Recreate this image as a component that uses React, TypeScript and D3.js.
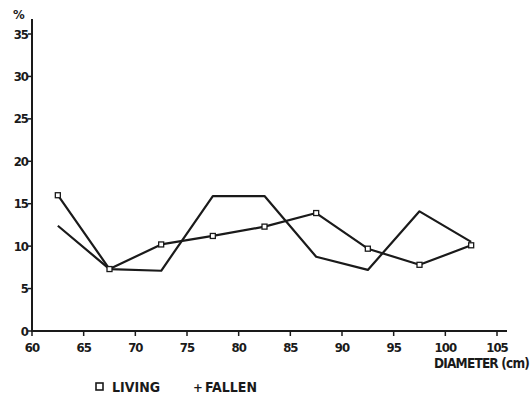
import React from "react";
import * as d3 from "d3";

const diameters = [62.5, 67.5, 72.5, 77.5, 82.5, 87.5, 92.5, 97.5, 102.5];
const living = [16.0, 7.3, 10.2, 11.2, 12.3, 13.9, 9.7, 7.8, 10.1];
const fallen = [12.4, 7.3, 7.1, 15.9, 15.9, 8.75, 7.2, 14.1, 10.5];
const xTicks = [60, 65, 70, 75, 80, 85, 90, 95, 100, 105];
const yTicks = [0, 5, 10, 15, 20, 25, 30, 35];

const W = 530;
const H = 401;
const FONT = "'DejaVu Sans Condensed', 'DejaVu Sans', sans-serif";
const INK = "#1a1a1a";

export default function App() {
  const x = d3.scaleLinear().domain([60, 105]).range([32, 497]);
  const y = d3.scaleLinear().domain([0, 35]).range([331, 34]);
  const line = d3
    .line<[number, number]>()
    .x((d) => x(d[0]))
    .y((d) => y(d[1]));
  const livingPts: [number, number][] = diameters.map((d, i) => [d, living[i]]);
  const fallenPts: [number, number][] = diameters.map((d, i) => [d, fallen[i]]);

  return (
    <svg
      width={W}
      height={H}
      style={{ position: "absolute", left: 0, top: 0, background: "#fff" }}
    >
      {/* axes */}
      <line x1={x(60)} x2={x(60)} y1={19} y2={y(0) + 1} stroke={INK} strokeWidth={2} />
      <line x1={x(60) - 1} x2={507} y1={y(0)} y2={y(0)} stroke={INK} strokeWidth={2} />
      {yTicks.map((t) => (
        <g key={"y" + t}>
          <line x1={x(60) - 4} x2={x(60)} y1={y(t)} y2={y(t)} stroke={INK} strokeWidth={1.5} />
          <text
            x={x(60) - 4}
            y={y(t)}
            dy="0.35em"
            textAnchor="end"
            fontFamily={FONT}
            fontWeight="bold"
            fontSize={13}
            letterSpacing={-1}
            fill={INK}
          >
            {t}
          </text>
        </g>
      ))}
      {xTicks.map((t) => (
        <g key={"x" + t}>
          <line x1={x(t)} x2={x(t)} y1={y(0)} y2={y(0) + 5} stroke={INK} strokeWidth={1.5} />
          <text
            x={x(t)}
            y={y(0) + 21}
            textAnchor="middle"
            fontFamily={FONT}
            fontWeight="bold"
            fontSize={13}
            letterSpacing={-1}
            fill={INK}
          >
            {t}
          </text>
        </g>
      ))}
      <text x={13} y={19} fontFamily={FONT} fontWeight="bold" fontSize={13} fill={INK}>
        %
      </text>
      <text
        x={434}
        y={368}
        fontFamily={FONT}
        fontWeight="bold"
        fontSize={13.5}
        letterSpacing={-0.8}
        fill={INK}
      >
        DIAMETER (cm)
      </text>

      {/* series */}
      <path d={line(fallenPts) || ""} fill="none" stroke={INK} strokeWidth={2.2} strokeLinejoin="round" />
      <path d={line(livingPts) || ""} fill="none" stroke={INK} strokeWidth={2.2} strokeLinejoin="round" />
      {livingPts.map((p, i) => (
        <rect
          key={"m" + i}
          x={x(p[0]) - 2.5}
          y={y(p[1]) - 2.5}
          width={5}
          height={5}
          fill="#fff"
          stroke={INK}
          strokeWidth={1.3}
        />
      ))}

      {/* legend */}
      <rect x={96} y={383} width={7} height={7} fill="#fff" stroke={INK} strokeWidth={1.6} />
      <text x={112} y={392} fontFamily={FONT} fontWeight="bold" fontSize={14} fill={INK}>
        LIVING
      </text>
      <text x={193} y={392} fontFamily={FONT} fontWeight="bold" fontSize={13} fill={INK}>
        +
      </text>
      <text x={205} y={392} fontFamily={FONT} fontWeight="bold" fontSize={14} fill={INK}>
        FALLEN
      </text>
    </svg>
  );
}
